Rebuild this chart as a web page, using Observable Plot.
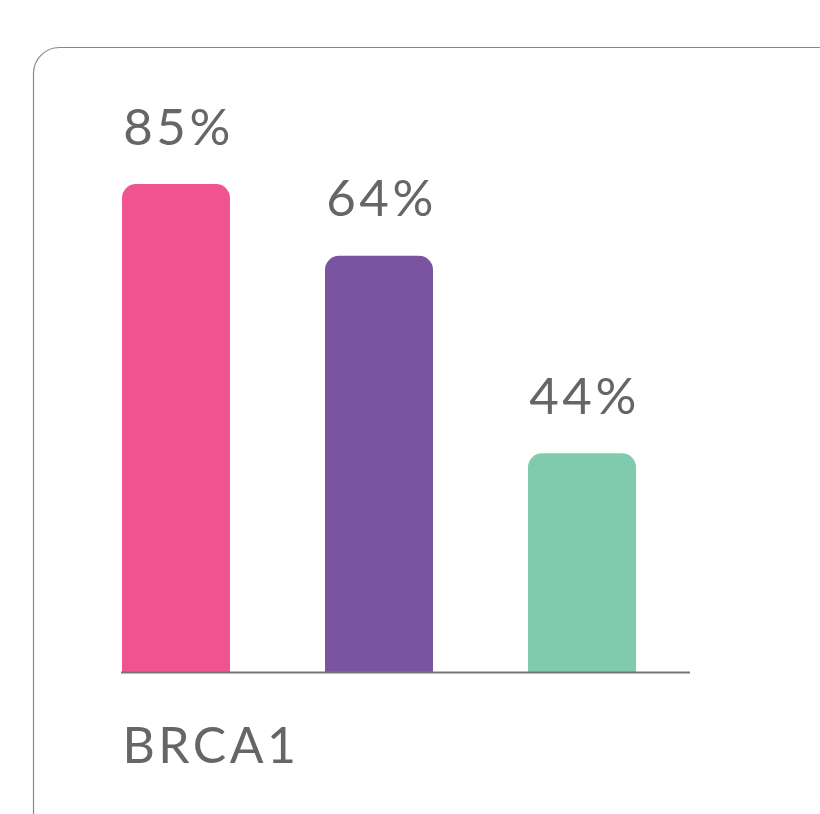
<!DOCTYPE html>
<html><head><meta charset="utf-8">
<script src="https://cdn.jsdelivr.net/npm/d3@7"></script>
<script src="https://cdn.jsdelivr.net/npm/@observablehq/plot@0.6"></script>
<style>html,body{margin:0;padding:0;background:#fff;} svg{display:block;}</style>
</head><body><div id="chart"></div>
<script>
const categories = ["A", "B", "C"];
const labels = ["85%", "64%", "44%"];
const heights = [85, 72.5, 38.1]; // drawn bar heights (axis 0-100)
const colors = ["#EF5390", "#7B54A1", "#80CBAE"];
const groupLabel = "BRCA1";

const data = categories.map((c, i) => ({cat: c, label: labels[i], h: heights[i], color: colors[i]}));

const chart = Plot.plot({
  width: 820, height: 814,
  marginLeft: 74.5, marginRight: 136.5, marginTop: 98, marginBottom: 142,
  style: {fontFamily: "Lato, sans-serif", background: "#fff", letterSpacing: "3.5px"},
  x: {domain: categories, paddingInner: 0.468, paddingOuter: 0.234, axis: null},
  y: {domain: [0, 100], axis: null},
  marks: [
    Plot.frame({rx: 26, stroke: "#888", strokeWidth: 1.2, insetLeft: -41.5, insetTop: -51, insetRight: -400, insetBottom: -400}),
    Plot.barY(data, {x: "cat", y: "h", fill: "color", rx: 14}),
    Plot.barY(data, {x: "cat", y1: 0, y2: d => d.h / 2, fill: "color"}),
    Plot.ruleY([0], {stroke: "#777", strokeWidth: 2, insetLeft: 46.5, insetRight: -6.5}),
    Plot.text(data, {x: "cat", y: "h", text: "label", dy: -40, dx: 2, lineAnchor: "bottom", fill: "#666", fontSize: 51, textAnchor: "middle"}),
    Plot.text([groupLabel], {frameAnchor: "bottom-left", dx: 47.5, dy: 90, lineAnchor: "bottom", fill: "#666", fontSize: 50, textAnchor: "start"})
  ]
});
document.getElementById("chart").appendChild(chart);
</script></body></html>
